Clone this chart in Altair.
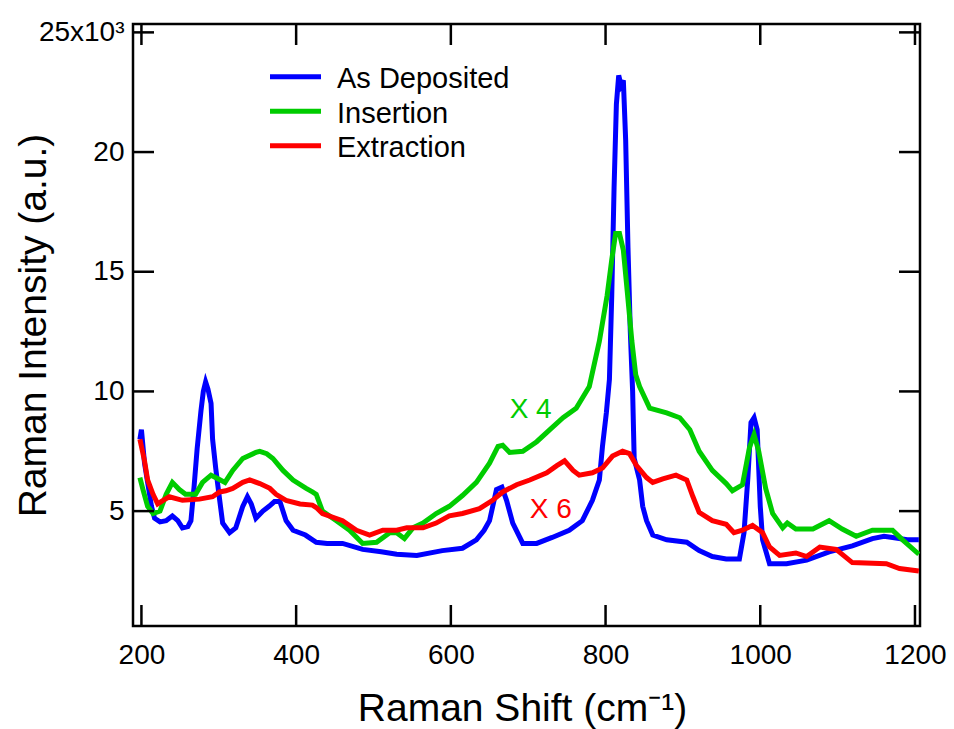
import altair as alt
import pandas as pd

# ---------------- data (intensity in units of 10^3) ----------------
series_names = ["As Deposited", "Insertion", "Extraction"]
series_colors = ["#0000ff", "#00cc00", "#ff0000"]

blue_x = [198, 200, 204, 208, 213, 217, 224, 232, 240, 247, 253, 260, 264, 268, 272, 277, 280, 283,
          286, 290, 292, 296, 301, 305, 314, 322, 331, 337, 342, 348, 357, 365, 372, 379, 387, 396,
          412, 426, 440, 460, 486, 510, 530, 556, 589, 615, 633, 643, 650, 659, 666, 672, 680, 693,
          711, 731, 753, 770, 783, 792, 796, 801, 805, 808, 811, 814, 817, 820, 823, 826, 829, 832,
          835, 837, 844, 848, 853, 861, 879, 905, 921, 938, 956, 973, 979, 984, 988, 992, 996, 1000,
          1003, 1012, 1034, 1060, 1089, 1119, 1145, 1160, 1171, 1190, 1205]
blue_y = [8.0, 8.4, 7.0, 6.2, 5.2, 4.7, 4.55, 4.6, 4.8, 4.6, 4.3, 4.35, 4.6, 6.0, 7.6, 9.2, 10.0, 10.4,
          10.1, 9.5, 8.0, 6.8, 5.5, 4.5, 4.1, 4.3, 5.2, 5.6, 5.3, 4.7, 5.0, 5.2, 5.4, 5.4, 4.6, 4.2,
          4.0, 3.7, 3.65, 3.65, 3.4, 3.3, 3.2, 3.15, 3.35, 3.45, 3.8, 4.2, 4.6, 5.9, 6.0, 5.45, 4.5, 3.65,
          3.65, 3.9, 4.2, 4.6, 5.45, 6.3, 7.7, 9.1, 10.5, 14.0, 18.5, 22.0, 23.2, 22.8, 23.0, 20.5, 16.0, 12.5,
          10.0, 7.2, 6.3, 5.2, 4.6, 4.0, 3.8, 3.7, 3.35, 3.1, 3.0, 3.0, 4.1, 6.4, 8.7, 8.9, 8.4, 5.2,
          3.8, 2.8, 2.8, 2.95, 3.3, 3.55, 3.85, 3.95, 3.9, 3.8, 3.8]

green_x = [198, 202, 208, 215, 224, 232, 240, 249, 257, 270, 279, 290, 299, 308, 318, 331, 348, 353,
           362, 370, 383, 396, 413, 421, 426, 434, 452, 469, 486, 504, 521, 530, 540, 551, 564, 581,
           598, 615, 633, 650, 661, 667, 676, 693, 711, 728, 745, 762, 779, 792, 802, 808, 813, 818,
           823, 828, 834, 839, 844, 857, 879, 896, 909, 921, 938, 956, 964, 977, 986, 992, 998, 1007,
           1016, 1029, 1035, 1046, 1068, 1089, 1106, 1124, 1145, 1171, 1184, 1205]
green_y = [6.4, 5.9, 5.2, 4.9, 5.0, 5.7, 6.2, 5.9, 5.7, 5.7, 6.2, 6.5, 6.35, 6.2, 6.7, 7.2, 7.45, 7.5,
           7.4, 7.2, 6.7, 6.3, 5.95, 5.8, 5.7, 5.0, 4.6, 4.2, 3.65, 3.7, 4.1, 4.1, 3.85, 4.3, 4.5, 4.9,
           5.2, 5.65, 6.2, 7.0, 7.7, 7.75, 7.45, 7.5, 7.9, 8.4, 8.9, 9.3, 10.2, 12.1, 14.0, 15.5, 16.6, 16.6,
           15.9, 14.2, 12.1, 10.7, 10.2, 9.3, 9.1, 8.9, 8.4, 7.5, 6.7, 6.15, 5.85, 6.1, 7.65, 8.2, 7.5, 5.95,
           4.9, 4.3, 4.5, 4.25, 4.25, 4.6, 4.25, 3.95, 4.2, 4.2, 3.8, 3.2]

red_x = [198, 204, 208, 215, 221, 228, 236, 253, 275, 292, 301, 309, 318, 331, 340, 353, 366, 374,
         387, 405, 421, 426, 434, 460, 478, 495, 512, 530, 543, 564, 581, 598, 615, 637, 654, 667,
         685, 702, 724, 737, 747, 758, 766, 783, 796, 809, 822, 831, 840, 853, 861, 874, 891, 905,
         913, 921, 938, 956, 966, 977, 990, 1003, 1012, 1025, 1046, 1060, 1077, 1098, 1119, 1163,
         1180, 1205]
red_y = [8.0, 7.1, 6.3, 5.7, 5.3, 5.45, 5.6, 5.45, 5.5, 5.6, 5.8, 5.85, 5.95, 6.2, 6.3, 6.15, 5.95, 5.7,
         5.45, 5.3, 5.25, 5.15, 4.9, 4.6, 4.2, 4.0, 4.2, 4.2, 4.3, 4.3, 4.5, 4.8, 4.9, 5.1, 5.45, 5.8,
         6.1, 6.3, 6.6, 6.9, 7.1, 6.7, 6.5, 6.6, 6.8, 7.3, 7.5, 7.4, 6.9, 6.4, 6.2, 6.35, 6.5, 6.3,
         5.6, 4.95, 4.6, 4.45, 4.1, 4.2, 4.4, 4.1, 3.5, 3.15, 3.25, 3.1, 3.5, 3.4, 2.85, 2.8,
         2.6, 2.5]

x_ticks = [200, 400, 600, 800, 1000, 1200]
y_ticks = [5, 10, 15, 20, 25]

ann_text = ["X 4", "X 6"]
ann_x = [676, 702]
ann_y = [8.9, 4.7]
ann_colors = ["#00cc00", "#ff0000"]

# ---------------- layout / style ----------------
W, H = 787, 602
FONT = "Liberation Sans"
TICK_LEN = 21
FRAME_W = 2.5

xscale = alt.Scale(domain=[189.1, 1206.5], nice=False, zero=False)
yscale = alt.Scale(domain=[0.2, 25.35], nice=False, zero=False)

xaxis = alt.Axis(values=x_ticks, ticks=False, domain=False, grid=False, format="d",
                 labelFont=FONT, labelFontSize=28, labelColor="black", labelPadding=15,
                 title="Raman Shift (cm⁻¹)", titleFont=FONT, titleFontSize=39,
                 titleFontWeight="normal", titleColor="black",
                 titleX=389, titleY=94, titleAlign="center", titleBaseline="alphabetic")
yaxis = alt.Axis(values=y_ticks, ticks=False, domain=False, grid=False, format="d",
                 labelFont=FONT, labelFontSize=28, labelColor="black", labelPadding=9,
                 labelExpr="datum.value == 25 ? '25x10³' : datum.label",
                 title="Raman Intensity (a.u.)", titleFont=FONT, titleFontSize=39,
                 titleFontWeight="normal", titleColor="black", titleAngle=270,
                 titleX=-88, titleY=H / 2, titleAlign="center", titleBaseline="alphabetic")

rows = []
for name, xs, ys in zip(series_names, [blue_x, green_x, red_x], [blue_y, green_y, red_y]):
    for i, (a, b) in enumerate(zip(xs, ys)):
        rows.append({"series": name, "shift": a, "intensity": b, "idx": i})
df = pd.DataFrame(rows)

color_scale = alt.Scale(domain=series_names, range=series_colors)

layers = []
for name in series_names:
    layers.append(
        alt.Chart(df).transform_filter(alt.datum.series == name)
        .mark_line(strokeWidth=5, clip=True, strokeJoin="miter")
        .encode(
            x=alt.X("shift:Q", scale=xscale, axis=xaxis),
            y=alt.Y("intensity:Q", scale=yscale, axis=yaxis),
            color=alt.Color("series:N", scale=color_scale, legend=None),
            order="idx:Q",
        )
    )

xt = pd.DataFrame({"v": x_ticks})
yt = pd.DataFrame({"v": y_ticks})
tick_style = dict(color="black", strokeWidth=FRAME_W)

layers.append(alt.Chart(xt).mark_rule(**tick_style).encode(
    x=alt.X("v:Q", scale=xscale, axis=xaxis), y=alt.value(H), y2=alt.value(H - TICK_LEN)))
layers.append(alt.Chart(xt).mark_rule(**tick_style).encode(
    x=alt.X("v:Q", scale=xscale, axis=xaxis), y=alt.value(0), y2=alt.value(TICK_LEN)))
layers.append(alt.Chart(yt).mark_rule(**tick_style).encode(
    y=alt.Y("v:Q", scale=yscale, axis=yaxis), x=alt.value(0), x2=alt.value(TICK_LEN)))
layers.append(alt.Chart(yt).mark_rule(**tick_style).encode(
    y=alt.Y("v:Q", scale=yscale, axis=yaxis), x=alt.value(W), x2=alt.value(W - TICK_LEN)))

# annotations (X 4, X 6)
ann_df = pd.DataFrame({"t": ann_text, "x": ann_x, "y": ann_y, "c": ann_colors})
layers.append(alt.Chart(ann_df).mark_text(font=FONT, fontSize=28, align="left",
                                          baseline="alphabetic").encode(
    x=alt.X("x:Q", scale=xscale, axis=xaxis),
    y=alt.Y("y:Q", scale=yscale, axis=yaxis),
    text="t:N",
    color=alt.Color("c:N", scale=None),
))

# custom legend (top-left inside the frame)
LEG_X0, LEG_X1, LEG_TX, LEG_Y0, LEG_DY = 137, 188, 204, 52.7, 34.5
leg_df = pd.DataFrame({"series": series_names})
for i, (name, col) in enumerate(zip(series_names, series_colors)):
    yy = LEG_Y0 + i * LEG_DY
    one = leg_df[leg_df.series == name]
    layers.append(alt.Chart(one).mark_rule(color=col, strokeWidth=5).encode(
        x=alt.value(LEG_X0), x2=alt.value(LEG_X1), y=alt.value(yy)))
    layers.append(alt.Chart(one).mark_text(font=FONT, fontSize=29, align="left",
                                           baseline="alphabetic", color="black").encode(
        x=alt.value(LEG_TX), y=alt.value(yy + 11.6), text="series:N"))

chart = alt.layer(*layers).properties(
    width=W, height=H,
    autosize=alt.AutoSizeParams(type="none"),
    padding={"left": 133, "top": 24, "right": 954 - 133 - W, "bottom": 729 - 24 - H},
    background="white",
).configure_view(stroke="black", strokeWidth=FRAME_W)

chart.save("out.html", embed_options={"renderer": "svg", "actions": False})
